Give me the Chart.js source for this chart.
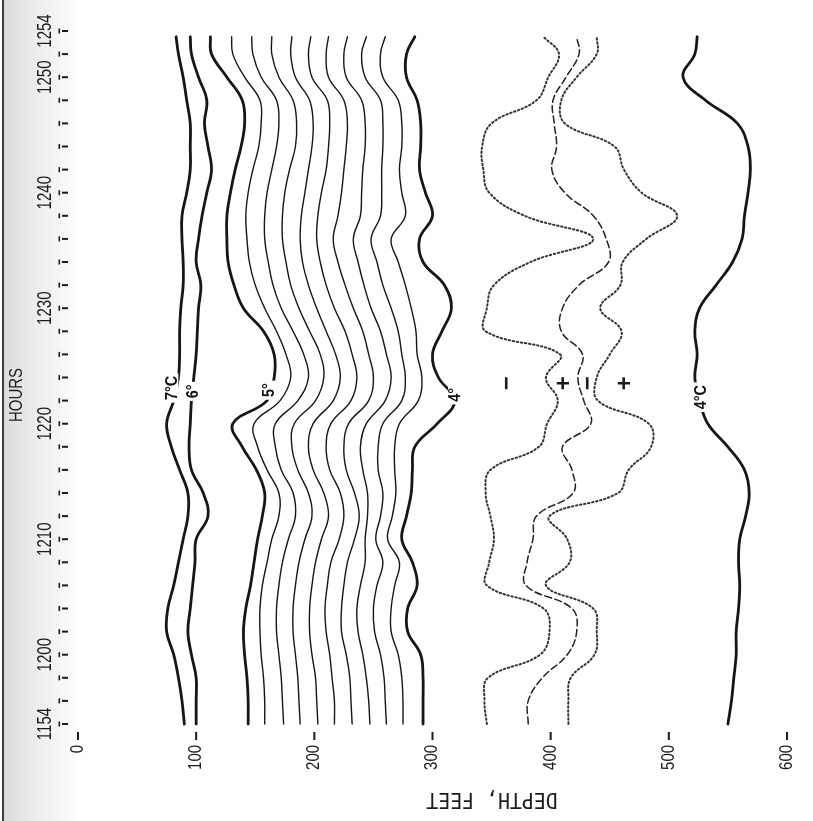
<!DOCTYPE html>
<html>
<head>
<meta charset="utf-8">
<script src="https://cdn.jsdelivr.net/npm/chart.js@4.4.0/dist/chart.umd.min.js"></script>
<style>
    html, body { margin: 0; padding: 0; background: #ffffff; }
    #cadre { width: 813px; height: 821px; }
</style>
</head>
<body>
<div id="cadre"><canvas id="graphIsothermes" width="813" height="821"></canvas></div>
<script>
//Temps d'échantillonnage - minutes après 11h54
var minutes = [0, 2, 4, 6, 8, 10, 12, 14, 16, 18, 20, 22, 24, 26, 28, 30, 32, 34, 36, 38, 40, 42, 44, 46, 48, 50, 52, 54, 56, 58, 59.5];

//Isothermes - profondeur en pieds
var iso7 = [90, 88, 85, 81, 75, 76, 81, 85, 89, 93, 93, 86, 79, 75, 81, 85, 86, 86, 87, 89, 89, 88, 88, 92, 95, 95, 95, 92, 89, 85, 83];
var iso6 = [100, 100, 100, 96, 93, 95, 97, 99, 100, 110, 106, 96, 94, 95, 96, 98, 100, 101, 102, 104, 100, 102, 105, 109, 113, 110, 107, 109, 102, 96, 95];
var iso5 = [144, 144, 143, 141, 140, 142, 146, 149, 152, 156, 158, 151, 139, 131, 160, 166, 166, 157, 140, 132, 127, 126, 126, 129, 133, 138, 141, 139, 126, 113, 112];
var iso49 = [158, 158, 157, 155, 154, 154, 156, 160, 164, 170, 170, 160, 152, 149, 171, 180, 176, 168, 158, 150, 145, 143, 142, 144, 148, 153, 155, 154, 141, 131, 130];
var iso48 = [174, 173, 172, 170, 168, 168, 170, 173, 178, 184, 182, 172, 167, 167, 186, 195, 191, 182, 172, 165, 161, 158, 158, 160, 164, 168, 170, 168, 155, 148, 147];
var iso47 = [188, 187, 186, 184, 182, 182, 184, 187, 192, 198, 195, 186, 181, 183, 201, 208, 205, 196, 187, 180, 176, 173, 173, 175, 179, 184, 185, 182, 170, 164, 164];
var iso46 = [203, 202, 201, 198, 196, 196, 198, 201, 206, 212, 208, 199, 195, 199, 216, 222, 218, 210, 202, 195, 190, 188, 189, 192, 195, 198, 199, 196, 184, 180, 181];
var iso45 = [217, 217, 215, 213, 210, 209, 211, 214, 221, 225, 222, 213, 210, 214, 231, 236, 232, 226, 217, 210, 205, 202, 203, 206, 210, 212, 213, 211, 198, 195, 197];
var iso44 = [232, 231, 230, 227, 223, 223, 225, 228, 234, 238, 234, 227, 225, 229, 246, 250, 246, 241, 233, 226, 220, 216, 220, 223, 225, 227, 228, 225, 212, 210, 212];
var iso43 = [247, 246, 244, 241, 237, 236, 239, 243, 243, 245, 245, 241, 239, 244, 260, 265, 261, 256, 248, 242, 237, 233, 239, 240, 241, 243, 243, 240, 227, 225, 228];
var iso42 = [261, 260, 259, 256, 251, 250, 253, 258, 252, 256, 258, 254, 254, 258, 274, 277, 274, 271, 265, 258, 253, 248, 256, 257, 257, 258, 258, 256, 243, 240, 244];
var iso41 = [275, 275, 274, 271, 265, 265, 268, 272, 262, 266, 269, 268, 268, 272, 288, 291, 287, 286, 282, 277, 271, 265, 277, 274, 272, 274, 274, 271, 258, 256, 260];
var iso4 = [292, 292, 292, 290, 279, 279, 287, 283, 274, 278, 282, 283, 285, 304, 319, 305, 300, 308, 316, 310, 292, 289, 300, 294, 289, 290, 290, 287, 278, 278, 285];

//Courbes de gradient (pointillés / tirets)
var pointilleGauche = [346, 344, 347, 391, 399, 394, 346, 348, 352, 349, 345, 349, 390, 397, 406, 396, 408, 345, 346, 352, 383, 436, 378, 348, 343, 342, 350, 388, 398, 407, 394];
var tirets = [381, 381, 393, 414, 422, 418, 379, 380, 385, 388, 419, 418, 410, 434, 428, 423, 427, 409, 410, 424, 449, 447, 436, 412, 401, 405, 403, 402, 413, 424, 422];
var pointilleDroite = [415, 415, 417, 437, 439, 436, 396, 416, 414, 399, 457, 466, 485, 483, 440, 439, 450, 460, 442, 459, 461, 481, 507, 477, 462, 454, 412, 409, 422, 439, 439];

//Isotherme 4°C profonde
var iso4Profond = [550, 553, 555, 557, 557, 559, 560, 559, 560, 565, 568, 564, 550, 533, 526, 522, 524, 522, 526, 540, 554, 562, 564, 567, 569, 567, 558, 531, 512, 522, 524];

//Axes
var heuresLabels = ['1154', '1200', '1210', '1220', '1230', '1240', '1250', '1254'];
var heuresMinutes = [0, 6, 16, 26, 36, 46, 56, 60];
var profondeurTicks = [0, 100, 200, 300, 400, 500, 600];

//Annotations
var etiquettes = ['7°C', '6°', '5°', '4°', '4°C'];
var etiquettesProf = [79, 97, 161, 319, 527];
var etiquettesMin = [29.1, 28.8, 28.9, 28.5, 28.3];
var signes = ['−', '+', '−', '+'];
var signesProf = [363, 412, 432, 463];
var signesMin = 29.5;


function points(profondeurs) {
    return profondeurs.map(function (d, i) {
        return { x: d, y: minutes[i] };
    });
}

function courbe(label, profondeurs, epaisseur, tiret, couleur) {
    return {
        label: label,
        data: points(profondeurs),
        showLine: true,
        borderColor: couleur || '#161616',
        borderWidth: epaisseur,
        borderDash: tiret || [],
        borderCapStyle: 'round',
        pointRadius: 0,
        tension: 0.4,
        fill: false,
        clip: false
    };
}

function ecrire(ctx, texte, x, y, police, echelle, alignement, angle) {
    ctx.save();
    ctx.translate(x, y);
    ctx.rotate(angle);
    ctx.scale(echelle, 1);
    ctx.font = police;
    ctx.textAlign = alignement;
    ctx.textBaseline = 'middle';
    ctx.fillText(texte, 0, 0);
    ctx.restore();
}

//Habillage : fond, axes tournés, étiquettes
var habillage = {
    id: 'habillage',
    beforeDraw: function (chart) {
        var ctx = chart.ctx;
        ctx.save();
        ctx.fillStyle = '#ffffff';
        ctx.fillRect(0, 0, chart.width, chart.height);
        var grad = ctx.createLinearGradient(4, 0, 82, 0);
        grad.addColorStop(0, '#dcdcdc');
        grad.addColorStop(0.45, '#eeeeee');
        grad.addColorStop(1, '#ffffff');
        ctx.fillStyle = grad;
        ctx.fillRect(4, 0, 78, chart.height);
        ctx.fillStyle = '#3c3c3c';
        ctx.fillRect(2, 0, 2, chart.height);
        ctx.restore();
    },
    afterDatasetsDraw: function (chart) {
        var ctx = chart.ctx;
        var xs = chart.scales.x;
        var ys = chart.scales.y;
        var haut = -Math.PI / 2;
        ctx.save();
        ctx.fillStyle = '#1c1c1c';

        //Axe des heures
        for (var m = 0; m <= 60; m += 2) {
            var yt = ys.getPixelForValue(m);
            ctx.fillRect(58.5, yt - 2.5, 1.6, 5);
            ctx.fillRect(62, yt - 1, 6, 2);
        }
        for (var i = 0; i < heuresLabels.length; i++) {
            ecrire(ctx, heuresLabels[i], 45, ys.getPixelForValue(heuresMinutes[i]), '20px "Liberation Sans", Arial, sans-serif', 0.75, 'center', haut);
        }
        ecrire(ctx, 'HOURS', 17, 395, '18px "Liberation Sans", Arial, sans-serif', 0.83, 'center', haut);

        //Axe des profondeurs
        for (var j = 0; j < profondeurTicks.length; j++) {
            var xt = xs.getPixelForValue(profondeurTicks[j]);
            ctx.fillRect(xt - 1, 732, 2, 8);
            ecrire(ctx, String(profondeurTicks[j]), xt, 745, '18px "Liberation Sans", Arial, sans-serif', 0.83, 'right', haut);
        }
        ecrire(ctx, 'DEPTH, FEET', 492, 799, '22px "DejaVu Sans Mono", monospace', 0.9, 'center', Math.PI);

        //Étiquettes des isothermes
        for (var k = 0; k < etiquettes.length; k++) {
            var ex = xs.getPixelForValue(etiquettesProf[k]);
            var ey = ys.getPixelForValue(etiquettesMin[k]);
            ctx.save();
            ctx.translate(ex, ey);
            ctx.rotate(haut);
            ctx.scale(0.9, 1);
            ctx.font = 'bold 16px "Liberation Sans", Arial, sans-serif';
            var w = ctx.measureText(etiquettes[k]).width;
            ctx.fillStyle = '#ffffff';
            ctx.fillRect(-w / 2 - 3, -7, w + 6, 14);
            ctx.fillStyle = '#111111';
            ctx.textAlign = 'center';
            ctx.textBaseline = 'middle';
            ctx.fillText(etiquettes[k], 0, 1);
            ctx.restore();
        }

        //Signes du gradient
        for (var s = 0; s < signes.length; s++) {
            ecrire(ctx, signes[s], xs.getPixelForValue(signesProf[s]), ys.getPixelForValue(signesMin), 'bold 24px "Liberation Sans", Arial, sans-serif', 1, 'center', haut);
        }
        ctx.restore();
    }
};

var ctx = document.getElementById('graphIsothermes').getContext('2d');
var chart = new Chart(ctx, {
    type: 'scatter',
    data: {
        datasets: [
            courbe('7°C', iso7, 2.8),
            courbe('6°', iso6, 2.8),
            courbe('5°', iso5, 2.8),
            courbe('4.9°', iso49, 1.4),
            courbe('4.8°', iso48, 1.4),
            courbe('4.7°', iso47, 1.4),
            courbe('4.6°', iso46, 1.4),
            courbe('4.5°', iso45, 1.4),
            courbe('4.4°', iso44, 1.4),
            courbe('4.3°', iso43, 1.4),
            courbe('4.2°', iso42, 1.4),
            courbe('4.1°', iso41, 1.4),
            courbe('4°', iso4, 2.8),
            courbe('pointillé gauche', pointilleGauche, 2, [1.5, 2.6], '#333333'),
            courbe('tirets', tirets, 1.5, [7, 3.5], '#222222'),
            courbe('pointillé droite', pointilleDroite, 2, [1.5, 2.6], '#333333'),
            courbe('4°C profond', iso4Profond, 2.8)
        ]
    },
    options: {
        responsive: false,
        animation: false,
        devicePixelRatio: 1,
        layout: {
            padding: { left: 78, right: 26, top: 31, bottom: 97 }
        },
        scales: {
            x: { type: 'linear', min: 0, max: 600, display: false },
            y: { type: 'linear', min: 0, max: 60, display: false }
        },
        plugins: {
            legend: { display: false },
            tooltip: { enabled: false }
        }
    },
    plugins: [habillage]
});
</script>
</body>
</html>
